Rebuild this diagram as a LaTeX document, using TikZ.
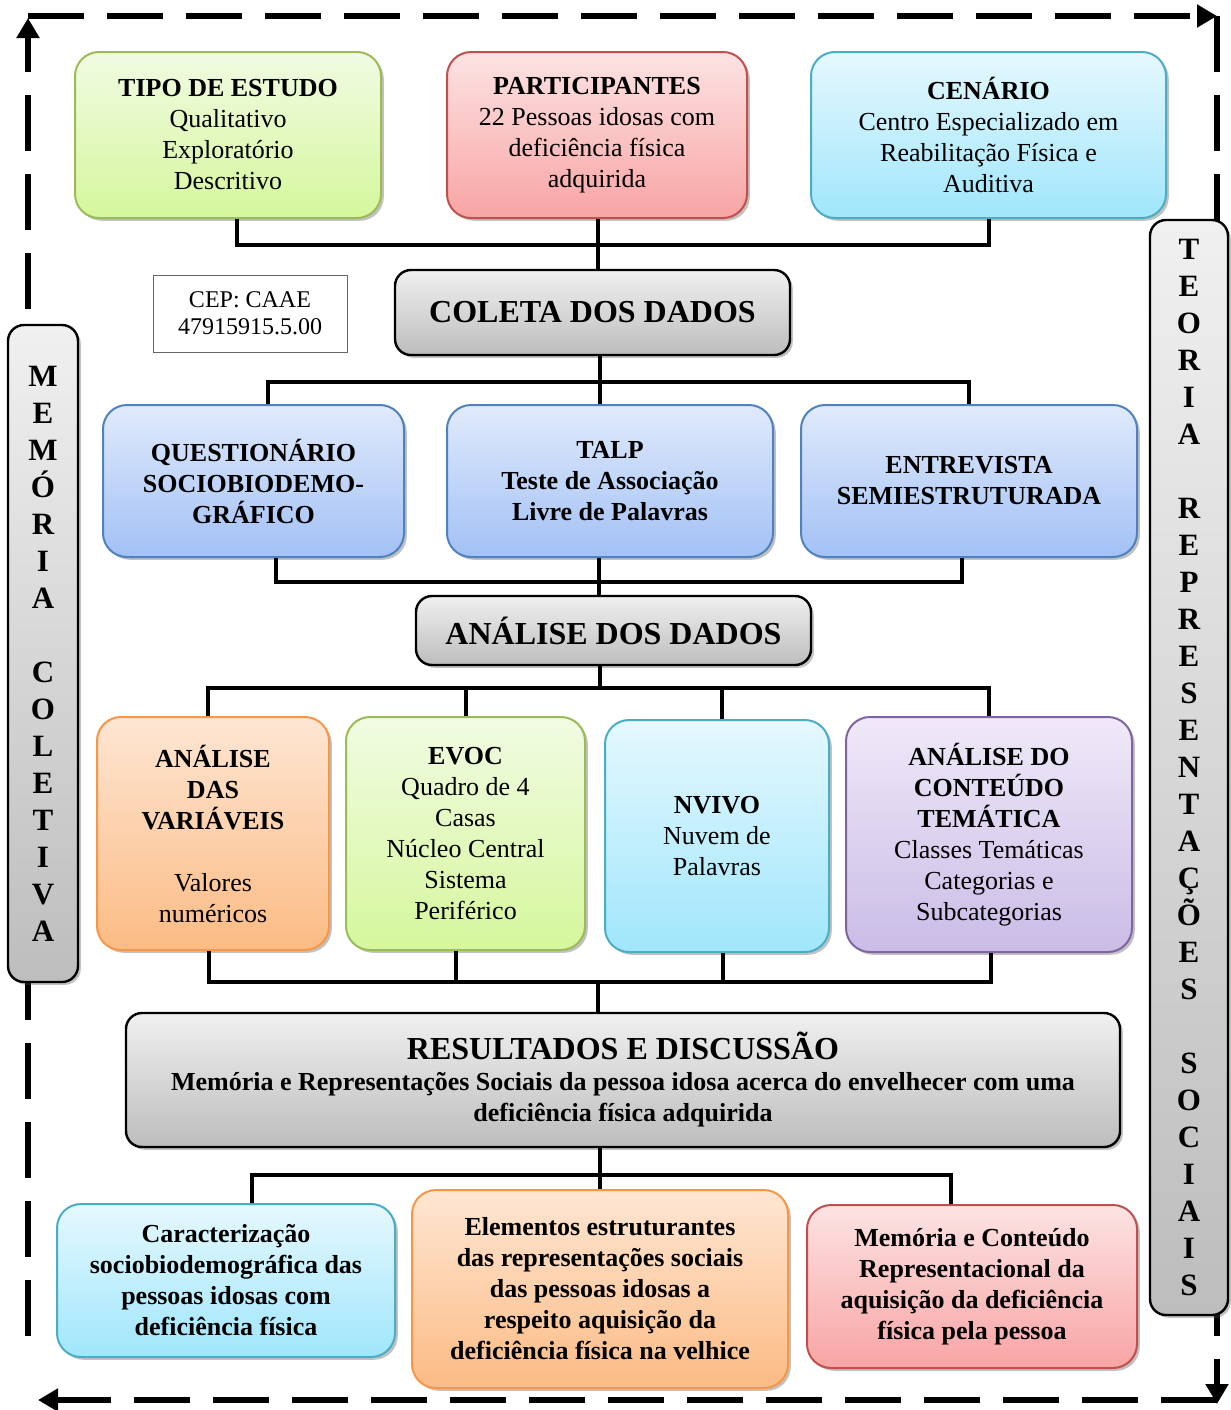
\documentclass[tikz,border=0pt]{standalone}
\usepackage{fontspec}
\setmainfont{Liberation Serif}
\usetikzlibrary{arrows.meta, shadows}

\begin{document}
\begin{tikzpicture}[
    x=0.5pt, y=-0.5pt,
    every node/.style={font=\fontsize{13pt}{15.5pt}\selectfont},
    box/.style={rounded corners=12pt, line width=1pt, align=center,
        inner sep=0pt,
        drop shadow={shadow xshift=1.4pt, shadow yshift=-1.4pt,
                     opacity=0.35, fill=black!70}},
    greenbox/.style={box, draw=grnline, top color=grntop, bottom color=grnbot},
    redbox/.style={box, draw=redline, top color=redtop, bottom color=redbot},
    cyanbox/.style={box, draw=cyaline, top color=cyatop, bottom color=cyabot},
    bluebox/.style={box, draw=bluline, top color=blutop, bottom color=blubot},
    orangebox/.style={box, draw=oraline, top color=oratop, bottom color=orabot},
    purplebox/.style={box, draw=purline, top color=purtop, bottom color=purbot},
    graybox/.style={box, rounded corners=8pt, draw=black, line width=1.2pt,
        top color=grytop, bottom color=grybot},
    titlefont/.style={font=\fontsize{16pt}{19pt}\selectfont\bfseries},
    sidefont/.style={font=\fontsize{15.5pt}{18.5pt}\selectfont\bfseries},
    link/.style={line width=2pt, black},
    frame/.style={line width=2.8pt, dash pattern=on 28pt off 11.5pt,
        -{Triangle[length=10pt, width=11pt]}},
]

\definecolor{grnline}{HTML}{9BBB59}
\definecolor{grntop}{HTML}{F1FBE3}
\definecolor{grnbot}{HTML}{D5F79C}
\definecolor{redline}{HTML}{C0504D}
\definecolor{redtop}{HTML}{FDE3E3}
\definecolor{redbot}{HTML}{F8A4A4}
\definecolor{cyaline}{HTML}{4BACC6}
\definecolor{cyatop}{HTML}{E5F8FE}
\definecolor{cyabot}{HTML}{A0E6FB}
\definecolor{bluline}{HTML}{4F81BD}
\definecolor{blutop}{HTML}{E0EAFB}
\definecolor{blubot}{HTML}{A2C1F5}
\definecolor{oraline}{HTML}{F79646}
\definecolor{oratop}{HTML}{FEE6D3}
\definecolor{orabot}{HTML}{FBBB84}
\definecolor{purline}{HTML}{8064A2}
\definecolor{purtop}{HTML}{EFE9F8}
\definecolor{purbot}{HTML}{CABCE6}
\definecolor{grytop}{HTML}{F0F0F0}
\definecolor{grybot}{HTML}{BDBDBD}

\useasboundingbox (0,0) rectangle (1231,1410);

% ------------------------------------------------------------ outer loop
\coordinate (tl) at (28,16);
\coordinate (tr) at (1217,16);
\coordinate (br) at (1217,1400);
\coordinate (bl) at (28,1400);
\draw[frame] (28,1336) -- ([yshift=-1pt]tl);
\draw[frame] (tl) -- (tr);
\draw[frame] (tr) -- ([yshift=-2pt]br);
\draw[frame] (br) -- ([xshift=5pt]bl);

% ------------------------------------------------------------ side bars
\node[graybox, sidefont, minimum width=35pt, minimum height=328.5pt]
    (memcol) at (43,653.5)
    {M\\E\\M\\Ó\\R\\I\\A\\[18.5pt]C\\O\\L\\E\\T\\I\\V\\A};
\node[graybox, sidefont, minimum width=39pt, minimum height=547.5pt]
    (teoria) at (1189,767.5)
    {T\\E\\O\\R\\I\\A\\[18.5pt]R\\E\\P\\R\\E\\S\\E\\N\\T\\A\\Ç\\Õ\\E\\S\\[18.5pt]S\\O\\C\\I\\A\\I\\S};

% ------------------------------------------------------------ top row
\node[greenbox, minimum width=153pt, minimum height=83pt] (tipo) at (228,135)
    {\textbf{TIPO DE ESTUDO}\\Qualitativo\\Exploratório\\Descritivo};
\node[redbox, minimum width=150pt, minimum height=83pt] (part) at (597,135)
    {\textbf{PARTICIPANTES}\\22 Pessoas idosas com\\deficiência física\\adquirida};
\node[cyanbox, minimum width=177.5pt, minimum height=83pt] (cen) at (988.5,135)
    {\textbf{CENÁRIO}\\Centro Especializado em\\Reabilitação Física e\\Auditiva};

\node[draw=black!60, line width=0.5pt, align=center, inner sep=0pt,
      minimum width=97pt, minimum height=38.5pt, font=\fontsize{12pt}{13.5pt}\selectfont]
    (cep) at (250,313.5) {CEP: CAAE\\47915915.5.00};

\node[graybox, titlefont, minimum width=197.5pt, minimum height=42.5pt]
    (coleta) at (592.5,312.5) {COLETA DOS DADOS};

% ------------------------------------------------------------ instruments
\node[bluebox, font=\fontsize{13pt}{15.5pt}\selectfont\bfseries,
      minimum width=150.5pt, minimum height=76pt] (quest) at (253.5,481)
    {QUESTIONÁRIO\\SOCIOBIODEMO-\\GRÁFICO};
\node[bluebox, font=\fontsize{13pt}{15.5pt}\selectfont\bfseries,
      minimum width=163pt, minimum height=76pt] (talp) at (610,481)
    {TALP\\Teste de Associação\\Livre de Palavras};
\node[bluebox, font=\fontsize{13pt}{15.5pt}\selectfont\bfseries,
      minimum width=168pt, minimum height=76pt] (entre) at (969,481)
    {ENTREVISTA\\SEMIESTRUTURADA};

\node[graybox, titlefont, minimum width=197.5pt, minimum height=34.5pt]
    (analise) at (613.5,630.5) {ANÁLISE DOS DADOS};

% ------------------------------------------------------------ analysis tools
\node[orangebox, minimum width=116pt, minimum height=116.5pt] (var) at (213,833.5)
    {\textbf{ANÁLISE}\\\textbf{DAS}\\\textbf{VARIÁVEIS}\\[15.5pt]Valores\\numéricos};
\node[greenbox, minimum width=119.5pt, minimum height=116.5pt] (evoc) at (465.5,833.5)
    {\textbf{EVOC}\\Quadro de 4\\Casas\\Núcleo Central\\Sistema\\Periférico};
\node[cyanbox, minimum width=112pt, minimum height=116pt] (nvivo) at (717,836)
    {\textbf{NVIVO}\\Nuvem de\\Palavras};
\node[purplebox, minimum width=143pt, minimum height=117.5pt] (cont) at (989,834.5)
    {\textbf{ANÁLISE DO}\\\textbf{CONTEÚDO}\\\textbf{TEMÁTICA}\\Classes Temáticas\\Categorias e\\Subcategorias};

% ------------------------------------------------------------ results
\node[graybox, font=\fontsize{13pt}{15.5pt}\selectfont\bfseries,
      minimum width=497pt, minimum height=67pt] (res) at (623,1080)
    {{\fontsize{16pt}{17pt}\selectfont RESULTADOS E DISCUSSÃO}\\
     Memória e Representações Sociais da pessoa idosa acerca do envelhecer com uma\\
     deficiência física adquirida};

\node[cyanbox, font=\fontsize{13pt}{15.5pt}\selectfont\bfseries,
      minimum width=169pt, minimum height=76.5pt] (carac) at (226,1280.5)
    {Caracterização\\sociobiodemográfica das\\pessoas idosas com\\deficiência física};
\node[orangebox, font=\fontsize{13pt}{15.5pt}\selectfont\bfseries,
      minimum width=188pt, minimum height=99pt] (elem) at (600,1289)
    {Elementos estruturantes\\das representações sociais\\das pessoas idosas a\\respeito aquisição da\\deficiência física na velhice};
\node[redbox, font=\fontsize{13pt}{15.5pt}\selectfont\bfseries,
      minimum width=165pt, minimum height=81.5pt] (mem) at (972,1286.5)
    {Memória e Conteúdo\\Representacional da\\aquisição da deficiência\\física pela pessoa};

% ------------------------------------------------------------ tree lines
\coordinate (j1) at (598,245);
\draw[link] ([xshift=4.5pt]tipo.south) |- (j1) -| (cen.south);
\draw[link] (part.south -| j1) -- (j1) -- (j1 |- coleta.north);

\coordinate (j2) at (600,382);
\draw[link] ([xshift=7pt]quest.north) |- (j2) -| (entre.north);
\draw[link] (coleta.south -| j2) -- (j2) -- (j2 |- talp.north);

\coordinate (j3) at (599,582);
\draw[link] ([xshift=11pt]quest.south) |- (j3) -| ([xshift=-3.5pt]entre.south);
\draw[link] (talp.south -| j3) -- (j3) -- (j3 |- analise.north);

\coordinate (j4) at (600,688);
\draw[link] ([xshift=-2.5pt]var.north) |- (j4) -| (cont.north);
\draw[link] (evoc.north) -- (evoc.north |- j4);
\draw[link] ([xshift=2.5pt]nvivo.north) -- ([xshift=2.5pt]nvivo.north |- j4);
\draw[link] (analise.south -| j4) -- (j4);

\coordinate (j5) at (598,982);
\draw[link] ([xshift=-2pt]var.south) |- (j5) -| ([xshift=1pt]cont.south);
\draw[link] ([xshift=-5pt]evoc.south) -- ([xshift=-5pt]evoc.south |- j5);
\draw[link] ([xshift=3pt]nvivo.south) -- ([xshift=3pt]nvivo.south |- j5);
\draw[link] (j5) -- (j5 |- res.north);

\coordinate (j6) at (600,1175);
\draw[link] ([xshift=13pt]carac.north) |- (j6) -| ([xshift=-10.5pt]mem.north);
\draw[link] (res.south -| j6) -- (j6) -- (elem.north -| j6);

\end{tikzpicture}
\end{document}
